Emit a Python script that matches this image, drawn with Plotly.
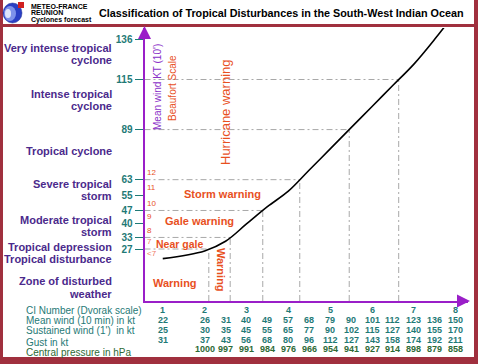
import numpy as np
import plotly.graph_objects as go

W, H = 478, 364

# ---------------- data ----------------
ci_cols = [1, 2, 2.5, 3, 3.5, 4, 4.5, 5, 5.5, 6, 6.5, 7, 7.5, 8]
mean_wind = [22, 26, 31, 40, 49, 57, 68, 79, 90, 101, 112, 123, 136, 150]
sustained_wind = [25, 30, 35, 45, 55, 65, 77, 90, 102, 115, 127, 140, 155, 170]
gust = [31, 37, 43, 56, 68, 80, 96, 112, 127, 143, 158, 174, 192, 211]
pressure = [None, 1000, 997, 991, 984, 976, 966, 954, 941, 927, 914, 898, 879, 858]
ci_labels = [1, 2, 3, 4, 5, 6, 7, 8]

wind_ticks = [27, 33, 40, 47, 55, 63, 89, 115, 136]
threshold_winds = [27, 33, 47, 63, 89, 115]

beaufort_labels = ["<7", "7", "8", "9", "10", "11", "12"]
beaufort_kt = [22, 28, 34, 41, 48, 56, 64]

category_lines = ["Very intense tropical", "cyclone", "Intense tropical", "cyclone",
                  "Tropical cyclone", "Severe tropical", "storm", "Moderate tropical",
                  "storm", "Tropical depression", "Tropical disturbance",
                  "Zone of disturbed", "weather"]
category_y_px = [48, 60, 94, 106, 151, 184, 196, 220, 232, 247, 259, 281, 294]

row_labels = ["CI Number (Dvorak scale)", "Mean wind (10 min) in kt",
              "Sustained wind (1')  in kt", "Gust in kt", "Central pressure in hPa"]

title = "Classification of Tropical Disturbances in the South-West Indian Ocean"

# ---------------- styling ----------------
FONT = "Liberation Sans, Arial, sans-serif"
PURPLE_AX = "#9a1fc8"
PURPLE_TX = "#4b2a8c"
TEAL = "#1f7a76"
GREEN = "#2d6a35"
ORANGE = "#e8501e"
SALMON = "#f07a66"
FRAME = "#a0303e"
GREY = "#a8a8a8"

def px(x):
    return x / W

def py(y):
    return 1 - y / H

# pixel geometry of plot area
X_AX, X_END = 144.5, 468.0
Y_AX, Y_TOP = 301.0, 28.0
PX_PER_CI, X_CI0 = 41.86, 120.9
PX_PER_KT = 1.926
xr = [(X_AX - X_CI0) / PX_PER_CI, (X_END - X_CI0) / PX_PER_CI]
yr = [0, (Y_AX - Y_TOP) / PX_PER_KT]

fig = go.Figure()

fig.add_trace(go.Scatter(
    x=ci_cols, y=mean_wind, mode="lines",
    line=dict(color="black", width=1.6, shape="spline", smoothing=1),
    hoverinfo="skip", showlegend=False))

shapes = []
# reference dash-dot lines
for w in threshold_winds:
    c = float(np.interp(w, mean_wind, ci_cols))
    shapes.append(dict(type="line", xref="x", yref="y", x0=xr[0], x1=c, y0=w, y1=w,
                       line=dict(color=GREY, width=1, dash="6px,3px,2px,3px"), layer="below"))
    shapes.append(dict(type="line", xref="x", yref="y", x0=c, x1=c, y0=0, y1=w,
                       line=dict(color=GREY, width=1, dash="6px,3px,2px,3px"), layer="below"))

def rect(x0, x1, y0, y1, color):
    return dict(type="rect", xref="paper", yref="paper", x0=px(x0), x1=px(x1),
                y0=py(y0), y1=py(y1), fillcolor=color, line=dict(width=0))

# frame
shapes += [
    rect(0, 3, 0, 364, FRAME),
    rect(474, 478, 0, 364, FRAME),
    rect(0, 478, 357, 364, FRAME),
    rect(0, 478, 24, 27, FRAME),
]
# logo
shapes += [
    dict(type="circle", xref="paper", yref="paper", x0=px(3), x1=px(22), y0=py(3), y1=py(23),
         fillcolor="#2a3fc4", line=dict(color="#1a2a90", width=0.5)),
    dict(type="circle", xref="paper", yref="paper", x0=px(4), x1=px(16), y0=py(6), y1=py(21),
         fillcolor="#7e92ea", line=dict(width=0)),
    dict(type="circle", xref="paper", yref="paper", x0=px(5), x1=px(11), y0=py(9), y1=py(18),
         fillcolor="#dfe5fb", line=dict(width=0)),
    rect(18, 24, 2, 8, "#d02020"),
]

ann = []

def text(x, y, s, size=10, color="black", bold=False, xanchor="center", angle=0,
         xref="paper", yref="paper"):
    ann.append(dict(x=x, y=y, xref=xref, yref=yref, text=("<b>%s</b>" % s) if bold else s,
                    showarrow=False, xanchor=xanchor, yanchor="middle", textangle=angle,
                    borderpad=0,
                    font=dict(family=FONT, size=size, color=color)))

# header
text(px(30), py(6), "METEO-FRANCE", 7, "black", True, "left")
text(px(30), py(13), "REUNION", 7, "black", True, "left")
text(px(30), py(20), "Cyclones forecast", 7, "black", True, "left")
text(px(98), py(13.5), title, 10.8, "black", True, "left")

# categories
for s, y in zip(category_lines, category_y_px):
    text(px(113), py(y), s, 11, PURPLE_TX, True, "right")

# beaufort numbers
for lab, k in zip(beaufort_labels, beaufort_kt):
    col = SALMON if lab in ("7", "<7") else ORANGE
    ann.append(dict(x=px(146), y=k, xref="paper", yref="y", text=lab, showarrow=False,
                    xanchor="left", yanchor="bottom", borderpad=0,
                    font=dict(family=FONT, size=8, color=col)))

# vertical labels
text(px(157), py(87), "Mean wind KT (10')", 10, "#8a30c8", False, "center", -90)
text(px(172), py(88), "Beaufort Scale", 10, ORANGE, False, "center", -90)
text(px(225), py(112), "Hurricane warning", 13, ORANGE, False, "center", -90)
text(px(222), py(194), "Storm warning", 11, ORANGE, True)
text(px(199), py(221), "Gale warning", 11, ORANGE, True)
text(px(155), py(244), "Near gale", 10.5, ORANGE, True, "left")
text(px(175), py(283), "Warning", 11, ORANGE, True)
text(px(221), py(270), "Warning", 11, ORANGE, True, "center", 90)

# table
row_label_y = [310, 320, 330, 342, 352]
for s, y, col in zip(row_labels, row_label_y, [TEAL, TEAL, TEAL, TEAL, GREEN]):
    text(px(25), py(y), s, 10, col, False, "left")
for c in ci_labels:
    text(c, py(310), str(c), 9, TEAL, True, "center", xref="x")
for row, y, col in [(mean_wind, 320, TEAL), (sustained_wind, 329.5, TEAL),
                    (gust, 339.5, TEAL), (pressure, 349, GREEN)]:
    for c, v in zip(ci_cols, row):
        if v is not None:
            text(c, py(y), str(v), 9, col, True, "center", xref="x")

# axis arrows
ann.append(dict(x=px(X_AX), y=py(26), xref="paper", yref="paper", ax=0, ay=14, text="",
                showarrow=True, arrowhead=2, arrowsize=1.3, arrowwidth=2, arrowcolor=PURPLE_AX))
ann.append(dict(x=px(470), y=py(Y_AX), xref="paper", yref="paper", ax=-14, ay=0, text="",
                showarrow=True, arrowhead=2, arrowsize=1.3, arrowwidth=2, arrowcolor=PURPLE_AX))

fig.update_layout(
    width=W, height=H, margin=dict(l=0, r=0, t=0, b=0, pad=0),
    paper_bgcolor="white", plot_bgcolor="white", showlegend=False,
    shapes=shapes, annotations=ann,
    xaxis=dict(domain=[px(X_AX), px(X_END)], range=xr, showgrid=False, zeroline=False,
               showline=True, linecolor=PURPLE_AX, linewidth=2, showticklabels=False,
               ticks=""),
    yaxis=dict(domain=[py(Y_AX), py(Y_TOP)], range=yr, showgrid=False, zeroline=False,
               showline=True, linecolor=PURPLE_AX, linewidth=2,
               tickvals=wind_ticks, ticktext=["<b>%d</b>" % t for t in wind_ticks],
               ticks="outside", ticklen=8, tickwidth=1, tickcolor=TEAL,
               tickfont=dict(family=FONT, size=10, color=TEAL)),
)

fig.write_html("out.html", config={"displayModeBar": False},
               post_script="document.body.style.margin='0';document.body.style.overflow='hidden';")
